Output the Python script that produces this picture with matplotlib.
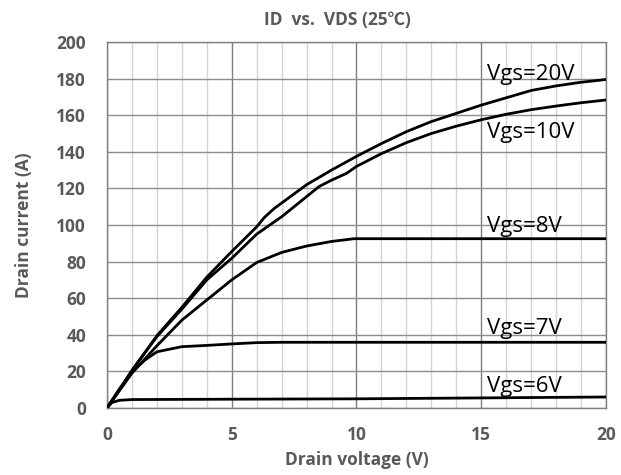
import matplotlib

matplotlib.use("Agg")
import matplotlib.pyplot as plt
from matplotlib.ticker import MultipleLocator

# Output characteristics, one curve per gate voltage
vgs20_v = [0, 0.5, 1, 2, 3, 4, 5, 6, 6.3, 6.7, 7, 8, 9, 10, 11, 12, 13, 14,
           15, 16, 17, 18, 19, 20]
vgs20_i = [0, 10, 20.5, 39.5, 55, 71.5, 85.5, 99, 104, 109, 112, 122, 130,
           137.5, 144.5, 151, 156.5, 161, 165.5, 169.5, 173.5, 176, 178, 179.5]

vgs10_v = [0, 0.5, 1, 2, 3, 4, 5, 6, 7, 8, 8.5, 9, 9.6, 10, 11, 12, 13, 14,
           15, 16, 17, 18, 19, 20]
vgs10_i = [0, 10, 20.5, 39, 54, 70, 81.8, 95, 104.5, 115.5, 121, 124.5,
           128.2, 132, 139, 145, 150, 154, 157.5, 160.5, 163, 165, 166.8, 168.3]

vgs8_v = [0, 0.5, 1, 2, 3, 4, 5, 6, 7, 8, 9, 9.9, 20]
vgs8_i = [0, 9.5, 19, 34, 48, 59, 70, 79.5, 85, 88.5, 91, 92.5, 92.5]

vgs7_v = [0, 0.5, 1, 1.5, 2, 3, 4, 5, 6, 7, 20]
vgs7_i = [0, 10.5, 19.5, 26, 30.7, 33.5, 34.2, 35, 35.7, 35.9, 35.9]

vgs6_v = [0, 0.2, 0.5, 1, 3, 5, 10, 15, 20]
vgs6_i = [0, 3, 4.2, 4.6, 4.7, 4.8, 5.0, 5.5, 6.0]

curves = [
    (vgs20_v, vgs20_i, "Vgs=20V", 179),
    (vgs10_v, vgs10_i, "Vgs=10V", 147.5),
    (vgs8_v, vgs8_i, "Vgs=8V", 96.3),
    (vgs7_v, vgs7_i, "Vgs=7V", 40.4),
    (vgs6_v, vgs6_i, "Vgs=6V", 8.9),
]
LABEL_X = 15.23

FONT = ["Open Sans", "Noto Sans CJK SC", "DejaVu Sans"]
GREY = "#595959"

fig = plt.figure(figsize=(6.21, 4.75), dpi=100)
ax = fig.add_axes([0.1723, 0.1411, 0.8035, 0.7705])

ax.set_xlim(0, 20)
ax.set_ylim(0, 200)
ax.xaxis.set_major_locator(MultipleLocator(5))
ax.xaxis.set_minor_locator(MultipleLocator(1))
ax.yaxis.set_major_locator(MultipleLocator(20))

ax.grid(which="minor", axis="x", color="#d4d4d4", lw=1.0)
ax.grid(which="major", axis="x", color="#7f7f7f", lw=1.0)
ax.grid(which="major", axis="y", color="#8c8c8c", lw=1.0)
ax.set_axisbelow(True)
for sp in ax.spines.values():
    sp.set_color("#808080")
    sp.set_linewidth(1.0)

ax.tick_params(which="both", length=0)
ax.tick_params(axis="x", pad=13)
ax.tick_params(axis="y", pad=15)
for lbl in ax.get_xticklabels() + ax.get_yticklabels():
    lbl.set_family(FONT)
    lbl.set_fontweight("bold")
    lbl.set_fontsize(12.5)
    lbl.set_color(GREY)

for xs, ys, name, ty in curves:
    ax.plot(xs, ys, color="black", lw=2.0, solid_joinstyle="round", zorder=3)
    ax.text(LABEL_X, ty, name, fontsize=16, family=FONT, color="black",
            va="baseline", ha="left", zorder=4)

ax.set_xlabel("Drain voltage (V)", family=FONT, fontweight="bold",
              fontsize=12.5, color=GREY, labelpad=5)
ax.set_ylabel("Drain current (A)", family=FONT, fontweight="bold",
              fontsize=12.5, color=GREY, labelpad=17)
fig.text(337 / 621, 1 - 20 / 475, "ID  vs.  VDS (25℃)", family=FONT,
         fontweight="bold", fontsize=12.5, color=GREY,
         ha="center", va="center")

fig.savefig("out.png", dpi=100)
